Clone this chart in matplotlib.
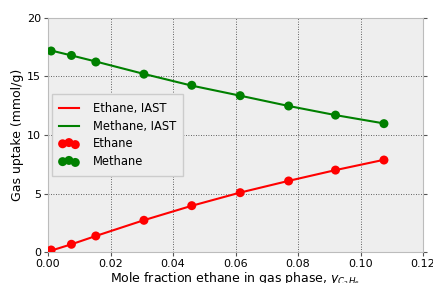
import matplotlib
matplotlib.use("Agg")
import matplotlib.pyplot as plt

x_frac = [0.001, 0.0075, 0.0153, 0.0307, 0.046, 0.0615, 0.077, 0.092, 0.1075]
ethane_exp = [0.17, 0.66, 1.37, 2.71, 3.96, 5.07, 6.07, 7.0, 7.86]
methane_exp = [17.18, 16.8, 16.24, 15.2, 14.25, 13.36, 12.48, 11.7, 10.97]
ethane_iast = [0.12, 0.66, 1.37, 2.72, 3.95, 5.08, 6.08, 7.0, 7.88]
methane_iast = [17.22, 16.8, 16.28, 15.22, 14.22, 13.36, 12.48, 11.7, 10.99]

fig = plt.figure(figsize=(4.33, 2.83), dpi=100)
ax = fig.add_axes([48/433, 1-252/283, 375/433, 234/283])
ax.set_facecolor('#eeeeee')
for s in ax.spines.values():
    s.set_color('#bcbcbc')
ax.plot(x_frac, ethane_iast, color='red', lw=1.5, label='Ethane, IAST')
ax.plot(x_frac, methane_iast, color='green', lw=1.5, label='Methane, IAST')
ax.scatter(x_frac, ethane_exp, color='red', s=42, zorder=3, label='Ethane', edgecolors='none')
ax.scatter(x_frac, methane_exp, color='green', s=42, zorder=3, label='Methane', edgecolors='none')
ax.set_xlim(0, 0.12)
ax.set_ylim(0, 20)
ax.set_xticks([0, 0.02, 0.04, 0.06, 0.08, 0.10, 0.12])
ax.set_yticks([0, 5, 10, 15, 20])
ax.grid(True, color='#333333', linestyle=(0, (1, 2)), lw=0.6)
ax.tick_params(labelsize=8, color='#555555', direction='out', length=3, pad=2, right=True, top=False)
ax.set_ylabel('Gas uptake (mmol/g)', fontsize=9, labelpad=2)
ax.set_xlabel('Mole fraction ethane in gas phase, $y_{C_2H_6}$', fontsize=9, labelpad=1)
leg = ax.legend(loc='center left', bbox_to_anchor=(0.019, 0.5), fontsize=8.3, borderaxespad=0,
                scatterpoints=3, scatteryoffsets=[0.45, 0.6, 0.35], frameon=True,
                facecolor='#eeeeee', edgecolor='#cccccc', handlelength=1.7, framealpha=1,
                borderpad=0.35, labelspacing=0.42, handletextpad=1.2)
leg.get_frame().set_boxstyle('square')
fig.savefig('out.png', dpi=100)
